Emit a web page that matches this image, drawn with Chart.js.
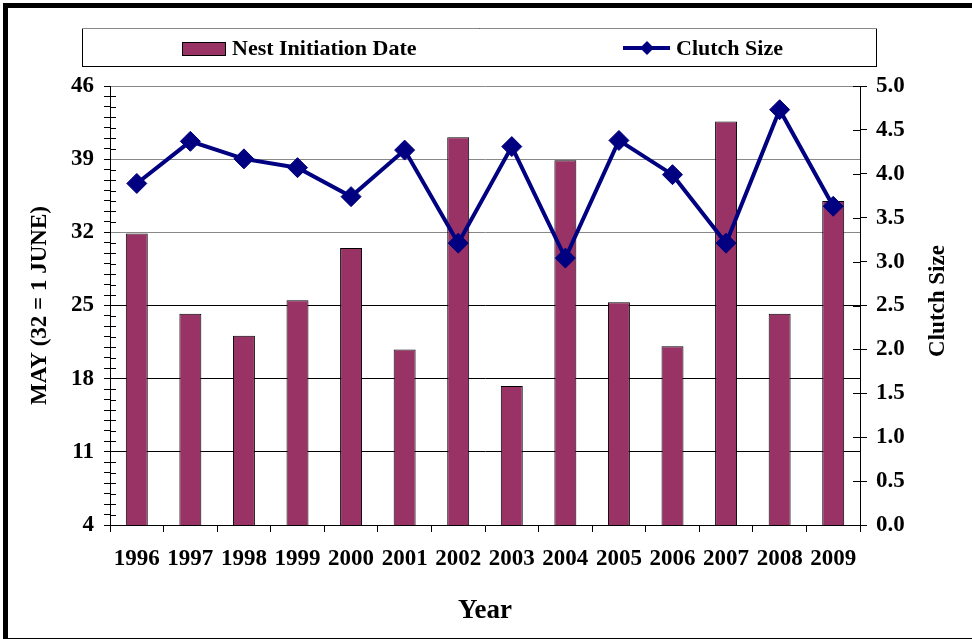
<!DOCTYPE html>
<html>
<head>
<meta charset="utf-8">
<title>Nest Initiation Date and Clutch Size</title>
<script src="https://cdn.jsdelivr.net/npm/chart.js@4.4.1/dist/chart.umd.min.js"></script>
<style>
    html, body {
        margin: 0;
        padding: 0;
        background: #ffffff;
        overflow: hidden;
        width: 972px;
        height: 639px;
    }
    #frame {
        position: absolute;
        left: 3px;
        top: 3px;
        width: 969px;
        height: 640px;
        box-sizing: border-box;
        border: 5px solid #000000;
        border-right: none;
    }
    #wrap {
        position: absolute;
        left: 0;
        top: 0;
        width: 972px;
        height: 639px;
    }
</style>
</head>
<body>
<div id="frame"></div>
<div id="wrap"><canvas id="nestChart" width="972" height="639"></canvas></div>
<script>
// 数据
const years = ['1996', '1997', '1998', '1999', '2000', '2001', '2002',
               '2003', '2004', '2005', '2006', '2007', '2008', '2009'];
const nestInitiationDate = [31.9, 24.2, 22.1, 25.5, 30.5, 20.8, 41.1,
                            17.3, 38.9, 25.3, 21.1, 42.6, 24.2, 35.0];
const clutchSize = [3.89, 4.37, 4.17, 4.07, 3.74, 4.27, 3.21,
                    4.31, 3.04, 4.38, 3.99, 3.21, 4.73, 3.63];
const leftTicks = [4, 11, 18, 25, 32, 39, 46];

const FONT = 'Liberation Serif, Times New Roman, serif';
const BAR_COLOR = '#993366';
const LINE_COLOR = '#000080';

// 图例、右轴标题和穿过坐标轴的小刻度
const decorPlugin = {
    id: 'decor',
    afterDraw(chart) {
        const c = chart.ctx;
        const y = chart.scales.y;
        const y2 = chart.scales.y2;
        c.save();
        c.strokeStyle = '#000';
        c.lineWidth = 1;
        // 左轴小刻度向内
        y.ticks.forEach(t => {
            if (leftTicks.includes(t.value)) return;
            const py = Math.round(y.getPixelForValue(t.value)) + 0.5;
            c.beginPath();
            c.moveTo(y.right, py);
            c.lineTo(y.right + 6, py);
            c.stroke();
        });
        // 右轴刻度向内
        y2.ticks.forEach(t => {
            const py = Math.round(y2.getPixelForValue(t.value)) + 0.5;
            c.beginPath();
            c.moveTo(y2.left - 7, py);
            c.lineTo(y2.left, py);
            c.stroke();
        });

        // 右轴标题（自下而上）
        c.save();
        c.translate(938, 301);
        c.rotate(-Math.PI / 2);
        c.font = 'bold 23px ' + FONT;
        c.textAlign = 'center';
        c.textBaseline = 'middle';
        c.fillStyle = '#000';
        c.fillText('Clutch Size', 0, 0);
        c.restore();

        // 图例框
        const lx = 82, ly = 28, lw = 794, lh = 38;
        c.strokeStyle = '#000';
        c.strokeRect(lx + 0.5, ly + 0.5, lw, lh);
        c.strokeStyle = '#888';
        c.beginPath();
        c.moveTo(lx, ly + 0.5);
        c.lineTo(lx + lw + 1, ly + 0.5);
        c.stroke();

        const barDs = chart.data.datasets[1];
        const lineDs = chart.data.datasets[0];
        c.font = 'bold 22px ' + FONT;
        c.textBaseline = 'middle';
        c.textAlign = 'left';

        c.fillStyle = barDs.backgroundColor;
        c.fillRect(182, 42, 43, 13);
        c.strokeStyle = '#000';
        c.strokeRect(182.5, 42.5, 43, 13);
        c.fillStyle = '#000';
        c.fillText(barDs.label, 232, 49);

        c.strokeStyle = lineDs.borderColor;
        c.lineWidth = 4;
        c.beginPath();
        c.moveTo(623, 48);
        c.lineTo(670, 48);
        c.stroke();
        c.fillStyle = lineDs.borderColor;
        c.beginPath();
        c.moveTo(647, 41);
        c.lineTo(654, 48);
        c.lineTo(647, 55);
        c.lineTo(640, 48);
        c.closePath();
        c.fill();
        c.fillStyle = '#000';
        c.fillText(lineDs.label, 676, 49);
        c.restore();
    }
};

const ctx = document.getElementById('nestChart').getContext('2d');
const nestChart = new Chart(ctx, {
    data: {
        labels: years,
        datasets: [{
            type: 'line',
            label: 'Clutch Size',
            data: clutchSize,
            yAxisID: 'y2',
            borderColor: LINE_COLOR,
            backgroundColor: LINE_COLOR,
            borderWidth: 4,
            pointStyle: 'rectRot',
            pointRadius: 10,
            pointBackgroundColor: LINE_COLOR,
            pointBorderColor: LINE_COLOR,
            pointBorderWidth: 1,
            tension: 0,
            order: 0
        }, {
            type: 'bar',
            label: 'Nest Initiation Date',
            data: nestInitiationDate,
            yAxisID: 'y',
            backgroundColor: BAR_COLOR,
            borderColor: '#000000',
            borderWidth: 1,
            barPercentage: 0.41,
            categoryPercentage: 1,
            order: 1
        }]
    },
    options: {
        responsive: false,
        animation: false,
        layout: {
            padding: { top: 86, left: 6, right: 4, bottom: 4 }
        },
        plugins: {
            legend: { display: false },
            tooltip: { enabled: false }
        },
        scales: {
            x: {
                offset: true,
                grid: {
                    offset: true,
                    drawOnChartArea: false,
                    tickLength: 7,
                    color: '#000'
                },
                border: { color: '#000', width: 1 },
                ticks: {
                    color: '#000',
                    padding: 13,
                    maxRotation: 0,
                    autoSkip: false,
                    font: { family: FONT, size: 23, weight: 'bold' }
                },
                title: {
                    display: true,
                    text: 'Year',
                    color: '#000',
                    padding: { top: 0, bottom: 8 },
                    font: { family: FONT, size: 27, weight: 'bold' }
                },
                afterFit(scale) { scale.height = 110; }
            },
            y: {
                position: 'left',
                min: 4,
                max: 46,
                grid: {
                    tickLength: 6,
                    tickColor: '#000',
                    color(c) {
                        const v = c.tick.value;
                        if (v === 46 || v === 39 || v === 32) return '#888';
                        if (v === 25 || v === 18 || v === 11) return '#000';
                        return 'rgba(0,0,0,0)';
                    }
                },
                border: { color: '#000', width: 1 },
                ticks: {
                    stepSize: 1,
                    autoSkip: false,
                    color: '#000',
                    padding: 10,
                    font: { family: FONT, size: 23, weight: 'bold' },
                    callback: v => leftTicks.includes(v) ? String(v) : ''
                },
                title: {
                    display: true,
                    text: 'MAY (32 = 1 JUNE)',
                    color: '#000',
                    padding: { top: 20, bottom: 0 },
                    font: { family: FONT, size: 23, weight: 'bold' }
                },
                afterFit(scale) { scale.width = 104; }
            },
            y2: {
                position: 'right',
                min: 0,
                max: 5,
                grid: {
                    drawOnChartArea: false,
                    tickLength: 7,
                    color: '#000'
                },
                border: { color: '#000', width: 1 },
                ticks: {
                    stepSize: 0.5,
                    color: '#000',
                    padding: 9,
                    font: { family: FONT, size: 23, weight: 'bold' },
                    callback: v => v.toFixed(1)
                },
                afterFit(scale) { scale.width = 108; }
            }
        }
    },
    plugins: [decorPlugin]
});
</script>
</body>
</html>
